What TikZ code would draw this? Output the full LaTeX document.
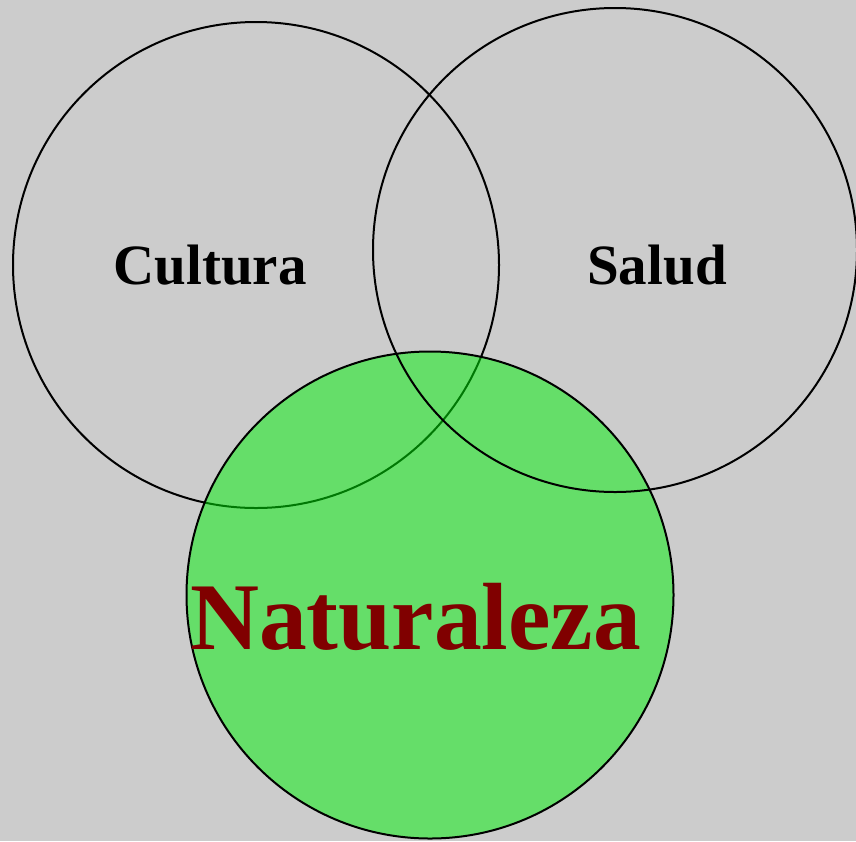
\documentclass[tikz,border=0pt]{standalone}
\usepackage{fontspec}
\setmainfont{Liberation Serif}
\usepackage{xcolor}
\definecolor{bggray}{RGB}{204,204,204}
\definecolor{natgreen}{RGB}{0,240,8}
\definecolor{natred}{RGB}{128,0,0}
\tikzset{
  set/.style ={circle,draw,line width=2pt,inner sep=0pt,outer sep=0pt},
  nat/.style ={set,fill=natgreen,fill opacity=0.5},
  lbl/.style ={font=\bfseries\fontsize{57}{60}\selectfont,anchor=base,inner sep=0pt},
  big/.style ={lbl,font=\bfseries\fontsize{95.5}{100}\selectfont,text=natred},
}

\begin{document}
\begin{tikzpicture}[x=1pt,y=-1pt]
  \fill[bggray] (0,0) rectangle (856,841);
  \useasboundingbox (0,0) rectangle (856,841);
  % the three sets
  \node[set,minimum size=486pt] (cultura) at (256,265) {};
  \node[nat,minimum size=487pt] (naturaleza) at (430,595) {};
  \node[set,minimum size=484pt] (salud) at (615,250) {};
  % labels
  \node[lbl] (tcultura) at (210,284) {Cultura};
  \node[lbl] (tsalud) at (657,284) {Salud};
  \node[big] (tnaturaleza) at (415.5,649) {Naturaleza};
\end{tikzpicture}
\end{document}
